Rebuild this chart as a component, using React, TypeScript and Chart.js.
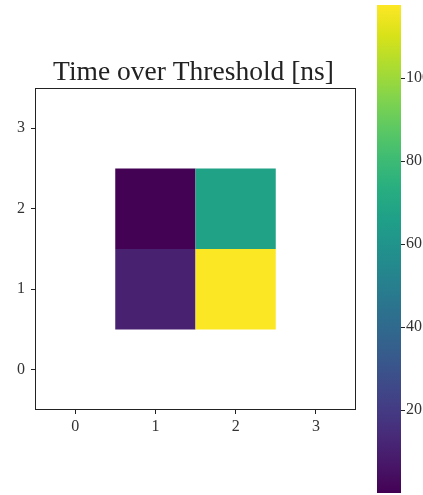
import React, { useEffect, useRef } from "react";
import { Chart, registerables } from "chart.js";

Chart.register(...registerables);

// Data
const xCells: number[] = [1, 2, 1, 2];
const yCells: number[] = [2, 2, 1, 1];
const cellValues: number[] = [0.3, 67, 10.5, 117.5];
const axisTicks: number[] = [0, 1, 2, 3];
const colorbarTicks: number[] = [20, 40, 60, 80, 100];
const vMin = 0;
const vMax = 117.6;
const titleText = "Time over Threshold [ns]";

const VIRIDIS = [
  "#440154", "#48186a", "#472d7b", "#424086", "#3b528b", "#33638d", "#2c728e", "#26828e",
  "#21918c", "#1fa088", "#28ae80", "#3fbc73", "#5ec962", "#84d44b", "#addc30", "#d8e219", "#fde725",
];

function hexToRgb(h: string) {
  return [parseInt(h.slice(1, 3), 16), parseInt(h.slice(3, 5), 16), parseInt(h.slice(5, 7), 16)];
}
function viridis(t: number) {
  t = Math.max(0, Math.min(1, t));
  const n = VIRIDIS.length - 1;
  const i = Math.min(n - 1, Math.floor(t * n));
  const f = t * n - i;
  const a = hexToRgb(VIRIDIS[i]);
  const b = hexToRgb(VIRIDIS[i + 1]);
  const c = a.map((v, k) => Math.round(v + (b[k] - v) * f));
  return `rgb(${c[0]},${c[1]},${c[2]})`;
}

const FONT = "'Liberation Serif', serif";
const TEXT = "#333";

export default function App() {
  const mainRef = useRef<HTMLCanvasElement>(null);
  const barRef = useRef<HTMLCanvasElement>(null);

  useEffect(() => {
    document.body.style.margin = "0";
    const cellPlugin = {
      id: "cells",
      beforeDatasetsDraw(chart: any) {
        const { ctx, scales, chartArea } = chart;
        const xs = scales.x, ys = scales.y;
        ctx.save();
        for (let i = 0; i < cellValues.length; i++) {
          const x0 = xs.getPixelForValue(xCells[i] - 0.5);
          const x1 = xs.getPixelForValue(xCells[i] + 0.5);
          const y0 = ys.getPixelForValue(yCells[i] + 0.5);
          const y1 = ys.getPixelForValue(yCells[i] - 0.5);
          ctx.fillStyle = viridis((cellValues[i] - vMin) / (vMax - vMin));
          ctx.fillRect(x0, y0, x1 - x0, y1 - y0);
        }
        ctx.strokeStyle = "#222";
        ctx.lineWidth = 1;
        ctx.strokeRect(
          Math.round(chartArea.left) + 0.5,
          Math.round(chartArea.top) + 0.5,
          Math.round(chartArea.right - chartArea.left) - 1,
          Math.round(chartArea.bottom - chartArea.top) - 1
        );
        // title, centred over the plot area
        ctx.fillStyle = "#222";
        ctx.font = `27.5px ${FONT}`;
        ctx.textAlign = "center";
        ctx.textBaseline = "alphabetic";
        ctx.fillText(titleText, (chartArea.left + chartArea.right) / 2 - 2, chartArea.top - 8);
        ctx.restore();
      },
    };

    const tickCfg = {
      display: true,
      font: { family: FONT, size: 16 },
      color: TEXT,
      autoSkip: false,
    };

    const main = new Chart(mainRef.current as HTMLCanvasElement, {
      type: "scatter",
      data: { datasets: [{ data: [] }] },
      plugins: [cellPlugin],
      options: {
        animation: false,
        responsive: false,
        layout: { padding: { left: 0, right: 67, top: 88, bottom: 0 } },
        plugins: {
          legend: { display: false },
          tooltip: { enabled: false },
          title: { display: false },
        },
        scales: {
          x: {
            type: "linear",
            min: -0.5,
            max: 3.5,
            afterBuildTicks: (s: any) => { s.ticks = axisTicks.map((v) => ({ value: v })); },
            afterFit: (s: any) => { s.height = 85; s.paddingLeft = 0; s.paddingRight = 0; },
            grid: { drawOnChartArea: false, drawTicks: true, tickLength: 4, color: "#222" },
            border: { display: false },
            ticks: { ...tickCfg, padding: 3, maxRotation: 0 },
          },
          y: {
            type: "linear",
            min: -0.5,
            max: 3.5,
            afterBuildTicks: (s: any) => { s.ticks = axisTicks.map((v) => ({ value: v })); },
            afterFit: (s: any) => { s.width = 35; s.paddingTop = 0; s.paddingBottom = 0; },
            grid: { drawOnChartArea: false, drawTicks: true, tickLength: 4, color: "#222" },
            border: { display: false },
            ticks: { ...tickCfg, padding: 6 },
          },
        },
      } as any,
    });

    const gradPlugin = {
      id: "gradient",
      beforeDatasetsDraw(chart: any) {
        const { ctx, chartArea, scales } = chart;
        const ys = scales.y;
        const top = ys.getPixelForValue(vMax);
        const bottom = ys.getPixelForValue(vMin);
        const g = ctx.createLinearGradient(0, bottom, 0, top);
        VIRIDIS.forEach((c, i) => g.addColorStop(i / (VIRIDIS.length - 1), c));
        ctx.save();
        ctx.fillStyle = g;
        ctx.fillRect(chartArea.left, top, chartArea.right - chartArea.left, bottom - top);
        ctx.restore();
      },
    };

    const bar = new Chart(barRef.current as HTMLCanvasElement, {
      type: "scatter",
      data: { datasets: [{ data: [] }] },
      plugins: [gradPlugin],
      options: {
        animation: false,
        responsive: false,
        layout: { padding: { left: 17, right: 0, top: 5, bottom: 2 } },
        plugins: { legend: { display: false }, tooltip: { enabled: false }, title: { display: false } },
        scales: {
          x: { display: false, min: 0, max: 1 },
          y: {
            type: "linear",
            position: "right",
            min: vMin,
            max: vMax,
            afterBuildTicks: (s: any) => { s.ticks = colorbarTicks.map((v) => ({ value: v })); },
            afterFit: (s: any) => { s.width = 22; s.paddingTop = 0; s.paddingBottom = 0; },
            grid: { drawOnChartArea: false, drawTicks: true, tickLength: 4, color: "#222" },
            border: { display: false },
            ticks: { ...tickCfg, padding: 1 },
          },
        },
      } as any,
    });

    return () => {
      main.destroy();
      bar.destroy();
    };
  }, []);

  return (
    <div style={{ position: "absolute", left: 0, top: 0, width: 423, height: 495, background: "#fff" }}>
      <canvas ref={mainRef} width={423} height={495} style={{ position: "absolute", left: 0, top: 0 }} />
      <canvas ref={barRef} width={63} height={495} style={{ position: "absolute", left: 360, top: 0 }} />
    </div>
  );
}
